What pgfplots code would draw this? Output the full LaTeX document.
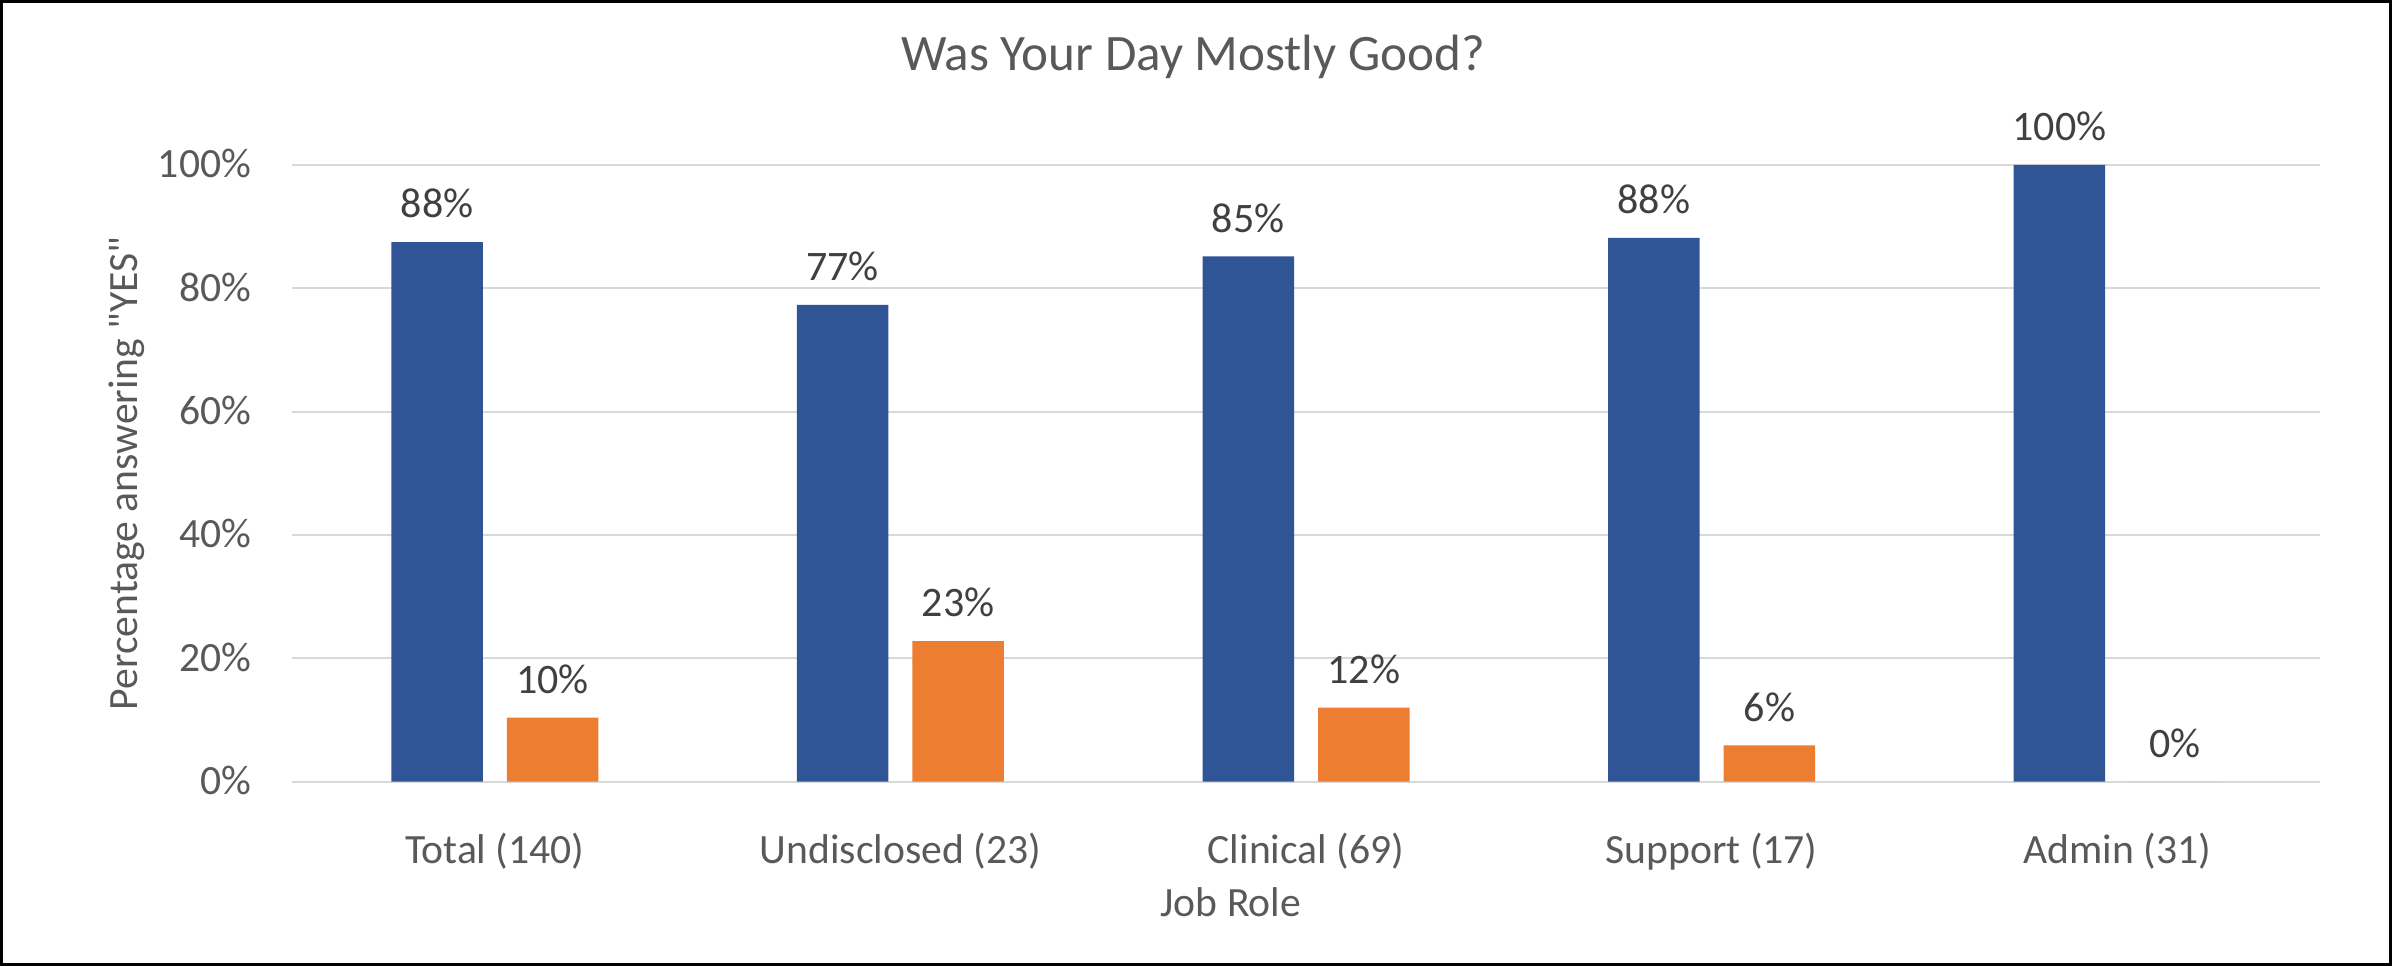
\documentclass[border=0pt]{standalone}
\usepackage{fontspec}
\setmainfont{Carlito}[Ligatures=TeXOff]
\usepackage{pgfplots}
\pgfplotsset{compat=1.18}
\definecolor{barblue}{HTML}{2F5597}
\definecolor{barorange}{HTML}{ED7D31}
\definecolor{gridgray}{HTML}{D9D9D9}
\definecolor{txtgray}{HTML}{595959}
\definecolor{lblgray}{HTML}{404040}
\begin{document}
\begin{tikzpicture}
\useasboundingbox (0,0) rectangle (683.43pt,276pt);
\draw[line width=0.8pt, black] (0.4pt,0.4pt) rectangle (683.03pt,275.6pt);
\begin{axis}[
  at={(83.43pt,52.66pt)}, anchor=south west,
  scale only axis,
  width=579.43pt, height=176.2pt,
  xmin=-0.5, xmax=4.5, ymin=0, ymax=100,
  ybar=6.86pt, bar width=26.14pt,
  axis line style={draw=none},
  tick style={draw=none},
  ymajorgrids,
  major grid style={draw=gridgray, line width=0.55pt},
  xtick={0,1,2,3,4},
  xticklabels={Total (140), Undisclosed (23), Clinical (69), Support (17), Admin (31)},
  ytick={0,20,40,60,80,100},
  yticklabels={0\%,20\%,40\%,60\%,80\%,100\%},
  xticklabel style={anchor=base, inner sep=0pt, yshift=-19pt, text=txtgray, font=\fontsize{11.9}{14}\selectfont},
  yticklabel style={anchor=base east, inner sep=0pt, xshift=-11.5pt, yshift=-3.7pt, text=txtgray, font=\fontsize{11.9}{14}\selectfont},
  title={Was Your Day Mostly Good?},
  every axis title/.style={at={(axis description cs:0.4443,1.1529)}, anchor=base, inner sep=0pt, text=txtgray, font=\fontsize{14.6}{17}\selectfont},
  xlabel={Job Role},
  every axis x label/.style={at={(axis description cs:0.463,-0.2194)}, anchor=base, inner sep=0pt, text=txtgray, font=\fontsize{11.9}{14}\selectfont},
  ylabel={Percentage answering \symbol{34}YES\symbol{34}},
  every axis y label/.style={at={(axis description cs:-0.07633,0.5)}, rotate=90, anchor=base, inner sep=0pt, text=txtgray, font=\fontsize{11.9}{14}\selectfont},
  point meta=explicit symbolic,
  nodes near coords={\pgfplotspointmeta\%},
  every node near coord/.append style={anchor=base, inner sep=0pt, yshift=6.9pt, text=lblgray, font=\fontsize{12}{14}\selectfont},
]
\addplot[fill=barblue, draw=none] coordinates {
  (0,87.5) [88] (1,77.3) [77] (2,85.2) [85] (3,88.2) [88] (4,100) [100]
};
\addplot[fill=barorange, draw=none] coordinates {
  (0,10.4) [10] (1,22.8) [23] (2,12.0) [12] (3,5.9) [6] (4,0) [0]
};
\end{axis}
\end{tikzpicture}
\end{document}
